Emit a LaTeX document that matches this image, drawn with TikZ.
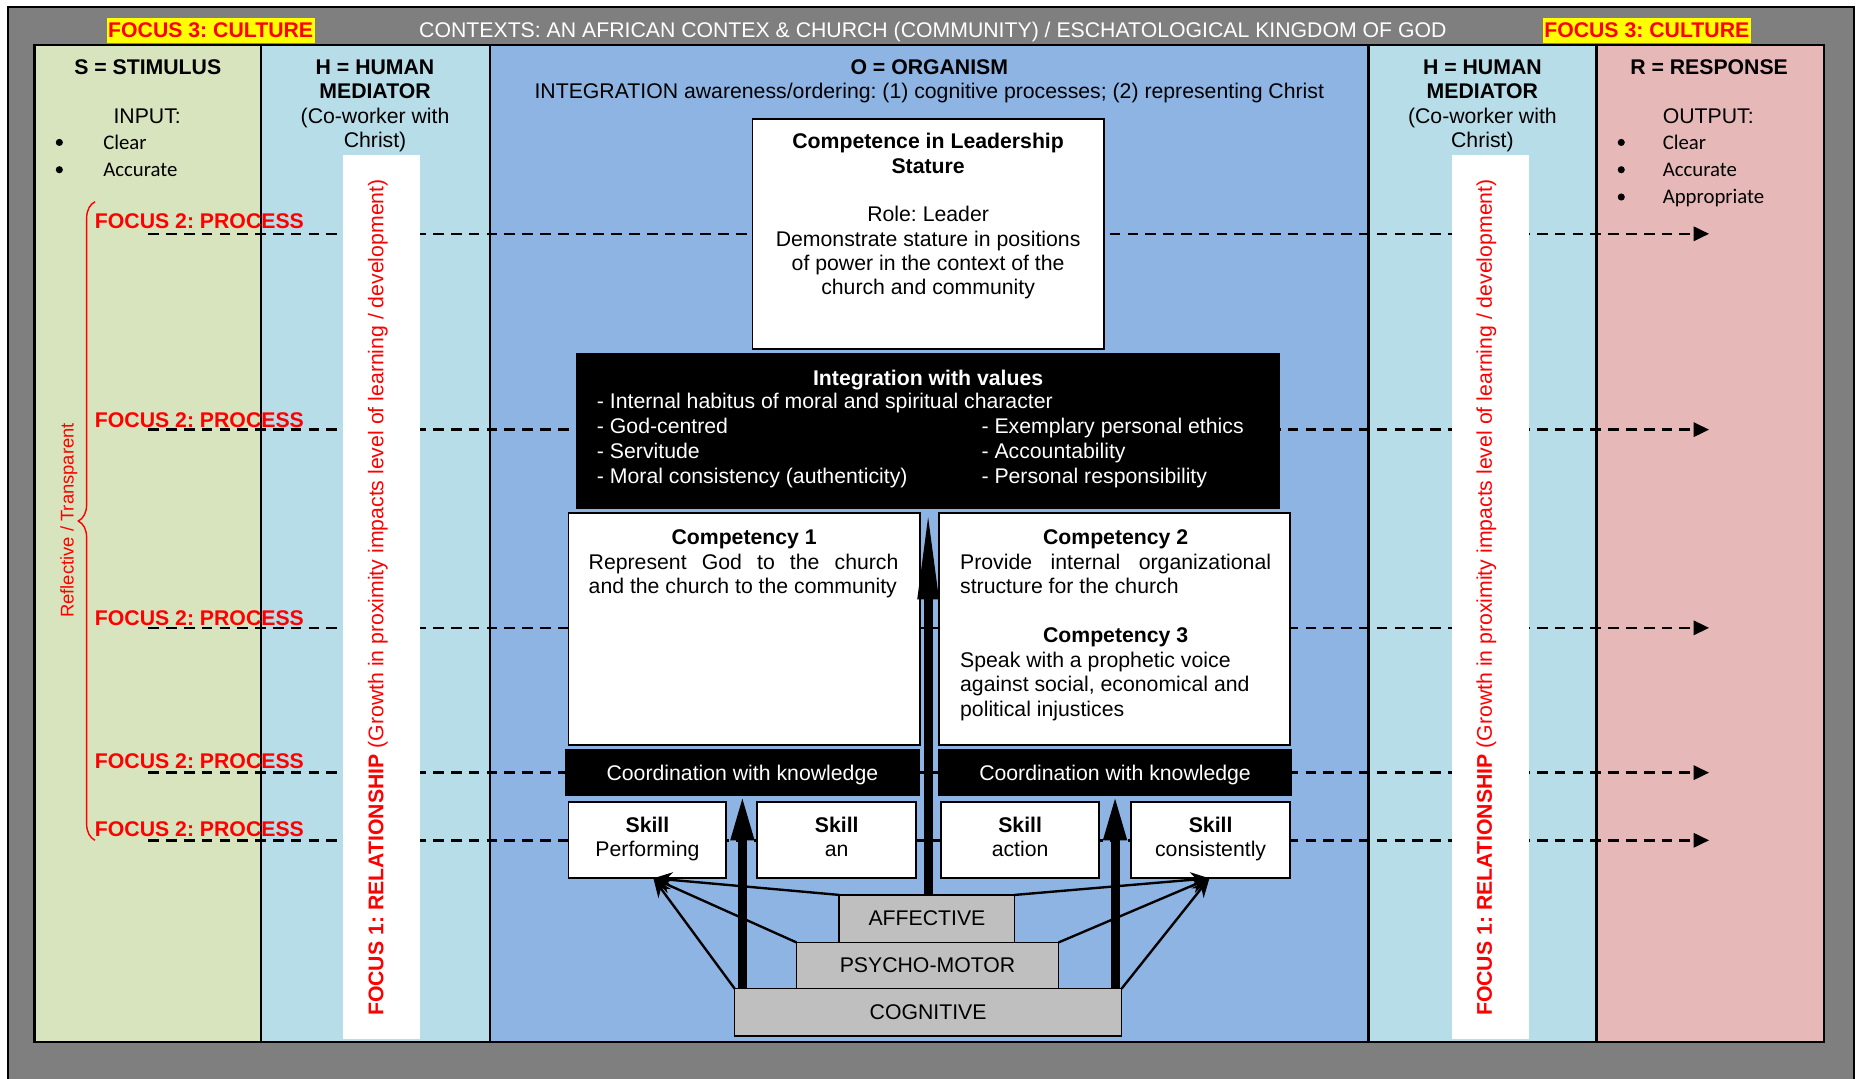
\documentclass[tikz,border=0pt]{standalone}
\usepackage{fontspec}
\setmainfont{Liberation Sans}
\newfontfamily\carl{Carlito}
\usetikzlibrary{arrows.meta,decorations.pathreplacing}
\definecolor{framegray}{HTML}{7F7F7F}
\definecolor{sgreen}{HTML}{D7E4BD}
\definecolor{hblue}{HTML}{B7DDE8}
\definecolor{oblue}{HTML}{8EB4E3}
\definecolor{rpink}{HTML}{E6B9B8}
\definecolor{boxgray}{HTML}{BFBFBF}
\definecolor{hiyellow}{HTML}{FFFF00}
\definecolor{focusred}{HTML}{FF0000}
\begin{document}
\frenchspacing
\begin{tikzpicture}[x=1pt,y=-1pt,
  every node/.style={inner sep=0pt, outer sep=0pt, font=\fontsize{17.9}{20.5}\selectfont},
  bfnode/.style={font=\fontsize{17.9}{20.5}\selectfont\bfseries},
  whitebox/.style={draw=black, fill=white, line width=1.6pt},
  blackbox/.style={draw=black, fill=black, line width=1.6pt},
  graybox/.style={draw=black, fill=boxgray, line width=1.2pt},
  dashline/.style={line width=2pt, dash pattern=on 9pt off 6pt, -{Triangle[length=13pt,width=12pt]}},
  colborder/.style={line width=2pt},
  focustwo/.style={text=focusred, font=\fontsize{17.9}{20.5}\selectfont\bfseries, anchor=base west},
  culture/.style={fill=hiyellow, text=focusred, minimum width=175pt, minimum height=21pt, font=\fontsize{17.9}{20.5}\selectfont\bfseries},
  bulletdot/.style={circle, fill=black, minimum size=6pt},
  bullettext/.style={anchor=base west, font=\carl\fontsize{17.5}{20}\selectfont},
  striptext/.style={rotate=90, anchor=base, text=focusred},
  thinarrow/.style={line width=2pt, -{Stealth[length=16pt,width=13pt]}},
  thickarrow/.style={line width=7.5pt, -{Triangle[length=38pt,width=18pt]}},
  bigarrow/.style={line width=7.5pt, -{Triangle[length=77pt,width=16pt]}},
]
\useasboundingbox (0,0) rectangle (1568,908.3);
% frame
\fill[framegray] (7,5) rectangle (1562,915);
\draw[line width=2pt] (7,915) -- (7,6) -- (1562,6) -- (1562,915);
% columns
\fill[sgreen] (29,38) rectangle (220,878);
\fill[hblue] (220,38) rectangle (413,878);
\fill[oblue] (413,38) rectangle (1153,878);
\fill[hblue] (1153,38) rectangle (1345,878);
\fill[rpink] (1345,38) rectangle (1537,878);
% dashed process lines
\foreach \yy/\n in {197/1,362/2,529/3,651/4,708/5}{
  \coordinate (ds\n) at (125,\yy);
  \coordinate (de\n) at (1440,\yy);
  \draw[dashline] (ds\n) -- (de\n);
}
% column borders
\draw[colborder] (29,38) rectangle (1537,878);
\foreach \xx in {220,413,1153,1345} \draw[colborder] (\xx,38) -- (\xx,878);
% white strips
\fill[white] (289,131) rectangle (354,875);
\fill[white] (1223,131) rectangle (1288,875);
\node[striptext] (rel1) at (323,503.5) {\textbf{FOCUS 1: RELATIONSHIP} (Growth in proximity impacts level of learning / development)};
\node[striptext] (rel2) at (1257,503.5) {\textbf{FOCUS 1: RELATIONSHIP} (Growth in proximity impacts level of learning / development)};
% top row
\node[culture] (cult1) at (177.5,25.5) {FOCUS 3: CULTURE};
\node[culture] (cult2) at (1387.5,25.5) {FOCUS 3: CULTURE};
\node[anchor=base, text=white] (ctx) at (786,31.4) {CONTEXTS: AN AFRICAN CONTEX \& CHURCH (COMMUNITY) / ESCHATOLOGICAL KINGDOM OF GOD};
% S column
\node[bfnode, anchor=base] (shead) at (124.5,62.4) {S = STIMULUS};
\node[anchor=base] (sin) at (124,104.4) {INPUT:};
\node[bulletdot] (sb1) at (50,120) {};
\node[bulletdot] (sb2) at (50,143) {};
\node[bullettext] (sc1) at (87,125.6) {Clear};
\node[bullettext] (sc2) at (87,148.6) {Accurate};
% H columns
\node[align=center, anchor=north] (hhead1) at (316,50.5) {\textbf{H = HUMAN}\\\textbf{MEDIATOR}\\(Co-worker with\\Christ)};
\node[align=center, anchor=north] (hhead2) at (1249,50.5) {\textbf{H = HUMAN}\\\textbf{MEDIATOR}\\(Co-worker with\\Christ)};
% R column
\node[bfnode, anchor=base] (rhead) at (1440,62.4) {R = RESPONSE};
\node[anchor=base west] (rout) at (1401,104.4) {OUTPUT:};
\node[bulletdot] (rb1) at (1366,120) {};
\node[bulletdot] (rb2) at (1366,143) {};
\node[bulletdot] (rb3) at (1366,166) {};
\node[bullettext] (rc1) at (1401,125.6) {Clear};
\node[bullettext] (rc2) at (1401,148.6) {Accurate};
\node[bullettext] (rc3) at (1401,171.6) {Appropriate};
% O header
\node[bfnode, anchor=base] (ohead) at (783,62.4) {O = ORGANISM};
\node[anchor=base] (ointeg) at (783,83.4) {INTEGRATION awareness/ordering: (1) cognitive processes; (2) representing Christ};
% focus 2 labels
\foreach \yy/\n in {192.4/1,360.4/2,527.4/3,647.4/4,704.4/5}
  \node[focustwo] (proc\n) at (80,\yy) {FOCUS 2: PROCESS};
% brace
\draw[focusred, line width=1.2pt, decorate, decoration={brace, amplitude=14pt}] (80,708) -- (80,170);
\node[rotate=90, anchor=base, text=focusred, font=\fontsize{15.5}{18}\selectfont] (refl) at (62,438.5) {Reflective / Transparent};
% boxes
\node[whitebox, minimum width=296pt, minimum height=194pt] (lead) at (782,197) {};
\node[align=center, anchor=north] (leadtxt) at (782,112.5) {\textbf{Competence in Leadership}\\\textbf{Stature}\\[20.5pt]Role: Leader\\Demonstrate stature in positions\\of power in the context of the\\church and community};
\node[blackbox, minimum width=592pt, minimum height=130pt] (integ) at (782,363) {};
\node[bfnode, anchor=base, text=white] (integt) at (782,324.4) {Integration with values};
\node[align=left, anchor=north west, text=white, font=\fontsize{17.9}{21}\selectfont] (integl) at (503,331.5) {- Internal habitus of moral and spiritual character\\- God-centred\\- Servitude\\- Moral consistency (authenticity)};
\node[align=left, anchor=north west, text=white, font=\fontsize{17.9}{21}\selectfont] (integr) at (827,352.5) {- Exemplary personal ethics\\- Accountability\\- Personal responsibility};
\node[whitebox, minimum width=296pt, minimum height=196pt] (comp1) at (627,530) {};
\node[whitebox, minimum width=296pt, minimum height=196pt] (comp2) at (939,530) {};
\node[bfnode, anchor=base] (c1t) at (627,458.4) {Competency 1};
\node[align=left, anchor=north west] (c1b) at (496,466.5) {\makebox[261pt][s]{Represent God to the church}\\and the church to the community};
\node[bfnode, anchor=base] (c2t) at (940,458.4) {Competency 2};
\node[align=left, anchor=north west] (c2b) at (809,466.5) {\makebox[262pt][s]{Provide internal organizational}\\structure for the church};
\node[bfnode, anchor=base] (c3t) at (940,541.4) {Competency 3};
\node[align=left, anchor=north west] (c3b) at (809,549.5) {Speak with a prophetic voice\\against social, economical and\\political injustices};
\node[blackbox, minimum width=297pt, minimum height=38pt] (coord1) at (625.5,651) {};
\node[blackbox, minimum width=297pt, minimum height=38pt] (coord2) at (939.5,651) {};
\node[anchor=base, text=white] (co1t) at (625.5,657.4) {Coordination with knowledge};
\node[anchor=base, text=white] (co2t) at (939.5,657.4) {Coordination with knowledge};
\node[whitebox, minimum width=133pt, minimum height=64pt] (skill1) at (545.5,708) {};
\node[whitebox, minimum width=134pt, minimum height=64pt] (skill2) at (705,708) {};
\node[whitebox, minimum width=133pt, minimum height=64pt] (skill3) at (859.5,708) {};
\node[whitebox, minimum width=134pt, minimum height=64pt] (skill4) at (1020,708) {};
\node[align=center, anchor=north] (s1t) at (545.5,688.5) {\textbf{Skill}\\Performing};
\node[align=center, anchor=north] (s2t) at (705,688.5) {\textbf{Skill}\\an};
\node[align=center, anchor=north] (s3t) at (859.5,688.5) {\textbf{Skill}\\action};
\node[align=center, anchor=north] (s4t) at (1020,688.5) {\textbf{Skill}\\consistently};
\node[graybox, minimum width=148pt, minimum height=40pt] (aff) at (781,774) {AFFECTIVE};
\node[graybox, minimum width=221pt, minimum height=39pt] (psy) at (781.5,813.5) {PSYCHO-MOTOR};
\node[graybox, minimum width=326pt, minimum height=40pt] (cog) at (782,853) {COGNITIVE};
% arrows
\coordinate (tipL) at ([xshift=5pt]skill1.south);
\coordinate (tipR) at ([xshift=-1pt]skill4.south);
\draw[thinarrow] (cog.north west) -- (tipL);
\draw[thinarrow] (psy.north west) -- (tipL);
\draw[thinarrow] (aff.north west) -- (tipL);
\draw[thinarrow] (cog.north east) -- (tipR);
\draw[thinarrow] (psy.north east) -- (tipR);
\draw[thinarrow] (aff.north east) -- (tipR);
\draw[thickarrow] (cog.north -| coord1.south) -- (coord1.south);
\draw[thickarrow] (cog.north -| coord2.south) -- (coord2.south);
\draw[bigarrow] (aff.north -| integ.south) -- (integ.south);
\end{tikzpicture}
\end{document}
